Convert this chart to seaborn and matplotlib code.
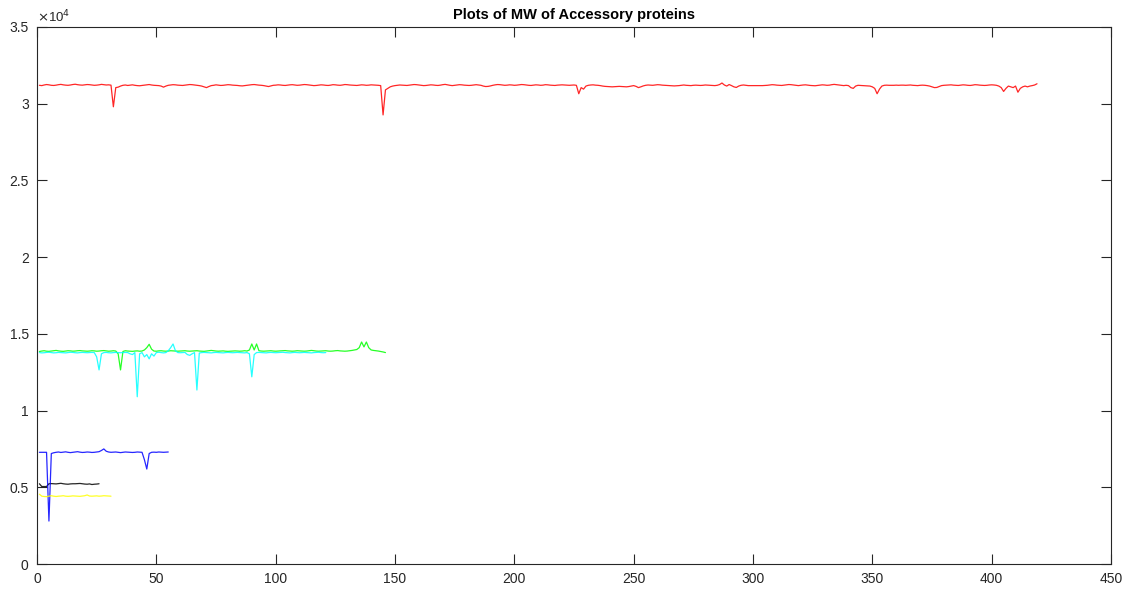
import numpy as np
import pandas as pd
import matplotlib
matplotlib.use("Agg")
import matplotlib.pyplot as plt
import seaborn as sns

# ---------------- data ----------------
title = "Plots of MW of Accessory proteins"

red_mw = [
    31200, 31180, 31220, 31250, 31230, 31200, 31190, 31210, 31240, 31260, 31230, 31210, 31200, 31220, 31250, 31270, 31240, 31220, 31210, 31230,
    31250, 31240, 31220, 31200, 31210, 31230, 31260, 31240, 31220, 31230, 31210, 29800, 31050, 31080, 31150, 31200, 31220, 31190, 31210, 31230,
    31200, 31180, 31170, 31190, 31210, 31230, 31250, 31220, 31200, 31190, 31180, 31150, 31080, 31150, 31200, 31220, 31240, 31230, 31210, 31200,
    31190, 31210, 31230, 31250, 31240, 31220, 31200, 31180, 31150, 31100, 31050, 31120, 31180, 31200, 31230, 31210, 31190, 31200, 31220, 31240,
    31230, 31210, 31200, 31190, 31170, 31160, 31180, 31200, 31220, 31240, 31250, 31230, 31210, 31200, 31180, 31150, 31120, 31160, 31200, 31210,
    31230, 31220, 31200, 31190, 31210, 31230, 31240, 31220, 31200, 31210, 31230, 31250, 31240, 31220, 31200, 31180, 31190, 31210, 31230, 31220,
    31200, 31190, 31210, 31240, 31230, 31210, 31200, 31220, 31250, 31240, 31220, 31210, 31200, 31190, 31210, 31230, 31220, 31200, 31210, 31230,
    31220, 31210, 31200, 31180, 29270, 30900, 31000, 31100, 31150, 31180, 31200, 31220, 31210, 31200, 31190, 31210, 31230, 31250, 31240, 31220,
    31200, 31180, 31190, 31210, 31230, 31220, 31200, 31190, 31210, 31240, 31260, 31230, 31200, 31180, 31200, 31220, 31240, 31230, 31210, 31200,
    31190, 31200, 31220, 31240, 31220, 31200, 31150, 31120, 31130, 31160, 31200, 31230, 31250, 31240, 31220, 31200, 31210, 31230, 31220, 31200,
    31210, 31230, 31250, 31240, 31220, 31200, 31190, 31210, 31230, 31220, 31200, 31210, 31240, 31230, 31210, 31200, 31190, 31210, 31220, 31230,
    31220, 31210, 31200, 31210, 31220, 31200, 30650, 31050, 30950, 31150, 31200, 31220, 31230, 31210, 31200, 31180, 31150, 31130, 31120, 31110,
    31100, 31110, 31120, 31130, 31120, 31110, 31100, 31120, 31150, 31180, 31130, 31050, 31100, 31160, 31200, 31220, 31210, 31200, 31220, 31240,
    31230, 31210, 31200, 31190, 31180, 31170, 31160, 31170, 31180, 31200, 31220, 31200, 31190, 31180, 31200, 31210, 31200, 31190, 31200, 31220,
    31210, 31200, 31190, 31180, 31200, 31250, 31350, 31220, 31150, 31250, 31180, 31100, 31060, 31150, 31200, 31220, 31200, 31180, 31180, 31180,
    31180, 31180, 31180, 31180, 31190, 31200, 31220, 31240, 31230, 31210, 31200, 31190, 31210, 31230, 31250, 31240, 31220, 31200, 31180, 31200,
    31220, 31230, 31210, 31190, 31180, 31170, 31190, 31210, 31230, 31220, 31200, 31210, 31240, 31260, 31240, 31220, 31200, 31180, 31200, 31180,
    31050, 31000, 31150, 31200, 31190, 31180, 31170, 31160, 31150, 31100, 31000, 30650, 30950, 31150, 31200, 31210, 31200, 31200, 31200, 31210,
    31200, 31210, 31210, 31200, 31210, 31220, 31200, 31190, 31180, 31200, 31210, 31200, 31180, 31150, 31100, 31050, 31060, 31120, 31180, 31200,
    31210, 31220, 31230, 31210, 31200, 31190, 31210, 31230, 31220, 31200, 31190, 31210, 31240, 31230, 31210, 31200, 31190, 31200, 31220, 31230,
    31220, 31200, 31150, 31050, 30800, 31000, 31150, 31100, 31050, 31150, 30750, 31000, 31100, 31150, 31100, 31150, 31180, 31220, 31300,
]

green_mw = [
    13850, 13880, 13900, 13870, 13860, 13880, 13900, 13920, 13890, 13870, 13860, 13880, 13900, 13890, 13870, 13880, 13900, 13910, 13890, 13880,
    13870, 13880, 13900, 13890, 13870, 13880, 13900, 13910, 13890, 13870, 13880, 13900, 13880, 13700, 12650, 13850, 13900, 13880, 13870, 13860,
    13880, 13890, 13870, 13880, 13950, 14100, 14320, 14000, 13880, 13870, 13890, 13900, 13880, 13870, 13880, 13900, 13890, 13880, 13870, 13880,
    13890, 13900, 13880, 13870, 13880, 13890, 13900, 13880, 13870, 13860, 13880, 13900, 13920, 13900, 13880, 13870, 13880, 13890, 13870, 13860,
    13870, 13880, 13890, 13880, 13870, 13880, 13900, 13880, 13950, 14340, 13950, 14340, 13900, 13880, 13870, 13880, 13890, 13900, 13880, 13870,
    13880, 13890, 13900, 13910, 13890, 13880, 13870, 13880, 13900, 13890, 13880, 13870, 13880, 13900, 13920, 13900, 13880, 13870, 13880, 13890,
    13900, 13880, 13870, 13880, 13900, 13910, 13890, 13880, 13870, 13880, 13900, 13920, 13950, 13980, 14100, 14470, 14150, 14470, 14100, 13950,
    13920, 13900, 13880, 13850, 13820, 13780,
]

cyan_mw = [
    13780, 13760, 13770, 13790, 13800, 13780, 13760, 13770, 13790, 13780, 13770, 13760, 13780, 13800, 13790, 13770, 13760, 13780, 13790, 13780,
    13770, 13780, 13790, 13780, 13500, 12650, 13700, 13780, 13790, 13770, 13760, 13780, 13790, 13780, 13770, 13780, 13790, 13780, 13700, 13650,
    13780, 10900, 13700, 13780, 13500, 13650, 13370, 13700, 13550, 13780, 13800, 13780, 13760, 13780, 13900, 14100, 14340, 13900, 13780, 13770,
    13780, 13790, 13650, 13600, 13700, 13780, 11340, 13750, 13780, 13790, 13780, 13770, 13760, 13780, 13790, 13780, 13770, 13760, 13780, 13790,
    13780, 13770, 13780, 13790, 13780, 13770, 13760, 13780, 13700, 12200, 13650, 13780, 13790, 13780, 13770, 13760, 13780, 13790, 13780, 13770,
    13780, 13790, 13800, 13780, 13770, 13760, 13780, 13790, 13780, 13770, 13780, 13790, 13780, 13770, 13760, 13780, 13790, 13800, 13780, 13770,
    13780,
]

blue_mw = [
    7280, 7280, 7280, 7280, 2800, 7200, 7250, 7280, 7300, 7270, 7290, 7310, 7280, 7260, 7280, 7300, 7320, 7290, 7270, 7280,
    7300, 7290, 7270, 7280, 7300, 7320, 7400, 7500, 7350, 7300, 7280, 7290, 7300, 7280, 7260, 7280, 7300, 7290, 7280, 7270,
    7280, 7300, 7290, 7280, 6800, 6190, 7200, 7280, 7290, 7280, 7300, 7290, 7280, 7290, 7300,
]

black_mw = [
    5230, 5050, 5050, 5050, 5230, 5240, 5230, 5220, 5240, 5260, 5230, 5210, 5200,
    5220, 5230, 5230, 5240, 5250, 5230, 5210, 5200, 5220, 5180, 5200, 5210, 5230,
]

yellow_mw = [
    4550, 4420, 4400, 4390, 4420, 4450, 4420, 4400, 4420, 4430, 4450, 4420, 4410, 4420, 4440, 4430,
    4420, 4410, 4430, 4450, 4500, 4430, 4420, 4430, 4440, 4420, 4430, 4450, 4440, 4430, 4420,
]

series_names = ["red", "green", "cyan", "black", "blue", "yellow"]
series_values = [red_mw, green_mw, cyan_mw, black_mw, blue_mw, yellow_mw]
series_colors = ["#ff0000", "#00ff00", "#00ffff", "#000000", "#0000ff", "#ffff00"]

x_ticks = [0, 50, 100, 150, 200, 250, 300, 350, 400, 450]
y_ticks = [0, 5000, 10000, 15000, 20000, 25000, 30000, 35000]
y_tick_labels = ["0", "0.5", "1", "1.5", "2", "2.5", "3", "3.5"]

# ---------------- plotting ----------------
sns.set_style("white")
plt.rcParams["font.family"] = ["Liberation Sans", "DejaVu Sans"]

fig = plt.figure(figsize=(11.25, 5.89), dpi=100)
ax = fig.add_axes([37 / 1125, 25 / 589, (1111 - 37) / 1125, (564 - 27) / 589])

for name, vals, col in zip(series_names, series_values, series_colors):
    df = pd.DataFrame({"x": np.arange(1, len(vals) + 1), "mw": vals})
    sns.lineplot(data=df, x="x", y="mw", color=col, linewidth=0.9, alpha=0.85, ax=ax,
                 estimator=None, sort=False, legend=False)

ax.set_xlim(0, 450)
ax.set_ylim(0, 35000)
ax.set_xticks(x_ticks)
ax.set_xticklabels([str(t) for t in x_ticks])
ax.set_yticks(y_ticks)
ax.set_yticklabels(y_tick_labels)
ax.set_xlabel("")
ax.set_ylabel("")

frame_col = "#262626"
for sp in ax.spines.values():
    sp.set_visible(True)
    sp.set_color(frame_col)
    sp.set_linewidth(0.8)

ax.tick_params(axis="both", direction="in", length=7, width=0.8, colors=frame_col,
               labelsize=10, labelcolor=frame_col, top=True, right=True,
               bottom=True, left=True)
ax.tick_params(axis="x", pad=6)
ax.tick_params(axis="y", pad=6)

ax.text(0.0, 1.004, r"$\times$10$^{4}$", transform=ax.transAxes, ha="left", va="bottom",
        fontsize=9.5, color=frame_col)

ax.set_title(title, fontsize=10.5, fontweight="bold", color="#000000", pad=6)

fig.savefig("out.png", dpi=100)
